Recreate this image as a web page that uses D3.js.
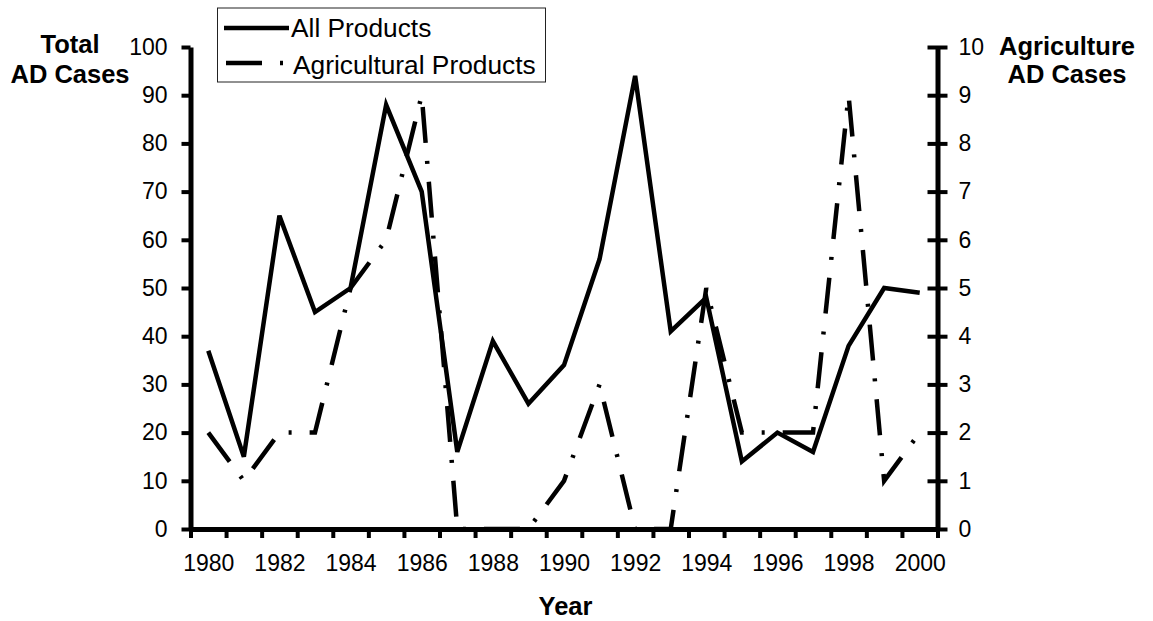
<!DOCTYPE html>
<html>
<head>
<meta charset="utf-8">
<script src="https://cdn.jsdelivr.net/npm/d3@7"></script>
<style>
  body { margin: 0; background: #fff; }
  svg { display: block; font-family: "Liberation Sans", Arial, sans-serif; }
  .axis path, .axis line { stroke: #000; }
</style>
</head>
<body>
<div id="chart"></div>
<script>
// Data
const years = d3.range(1980, 2001);
const allProducts = [37, 15, 65, 45, 50, 88, 70, 16, 39, 26, 34, 56, 94, 41, 48, 14, 20, 16, 38, 50, 49];
const agriProducts = [2, 1, 2, 2, 5, 6, 9, 0, 0, 0, 1, 3, 0, 0, 5, 2, 2, 2, 9, 1, 2];
const leftTicks = d3.range(0, 101, 10);
const rightTicks = d3.range(0, 11, 1);
const yearLabels = years.filter(y => y % 2 === 0);

const W = 1153, H = 621;
const plot = {left: 190.5, right: 937.5, top: 47, bottom: 529};
const agriDash = "36,18,3,18";

const svg = d3.select("#chart").append("svg")
    .attr("width", W)
    .attr("height", H);

// Scales: years are categories, ticks sit on the category boundaries
const x = d3.scaleLinear()
    .domain([years[0] - 0.5, years[years.length - 1] + 0.5])
    .range([plot.left, plot.right]);
const yLeft = d3.scaleLinear().domain([0, 100]).range([plot.bottom, plot.top]);
const yRight = d3.scaleLinear().domain([0, 10]).range([plot.bottom, plot.top]);

// X axis ticks (boundaries) and labels (every other year)
const boundaries = d3.range(years[0] - 0.5, years[years.length - 1] + 1, 1);
svg.append("g")
    .attr("class", "axis")
    .attr("transform", `translate(0,${plot.bottom})`)
    .call(d3.axisBottom(x).tickValues(boundaries).tickSize(9).tickSizeOuter(0).tickFormat(""))
    .call(g => g.selectAll("line").attr("stroke-width", 4))
    .call(g => g.select(".domain").attr("stroke-width", 5));

svg.append("g")
    .attr("transform", `translate(0,${plot.bottom})`)
    .call(d3.axisBottom(x).tickValues(yearLabels).tickSize(0).tickPadding(26).tickFormat(d3.format("d")))
    .call(g => g.select(".domain").remove())
    .call(g => g.selectAll("text").attr("font-size", 23).attr("font-family", "Liberation Sans, Arial, sans-serif").attr("fill", "#000"));

// Left axis
svg.append("g")
    .attr("class", "axis")
    .attr("transform", `translate(${plot.left},0)`)
    .call(d3.axisLeft(yLeft).tickValues(leftTicks).tickSize(9).tickSizeOuter(0).tickPadding(14))
    .call(g => g.select(".domain").attr("stroke-width", 5))
    .call(g => g.selectAll("line").attr("stroke-width", 4))
    .call(g => g.selectAll("text").attr("font-size", 23).attr("font-family", "Liberation Sans, Arial, sans-serif").attr("fill", "#000"));

// Right axis with cross ticks
svg.append("g")
    .attr("class", "axis")
    .attr("transform", `translate(${plot.right},0)`)
    .call(d3.axisRight(yRight).tickValues(rightTicks).tickSize(10).tickSizeOuter(0).tickPadding(11))
    .call(g => g.select(".domain").attr("stroke-width", 5))
    .call(g => g.selectAll("line").attr("x1", -10).attr("stroke-width", 4))
    .call(g => g.selectAll("text").attr("font-size", 23).attr("font-family", "Liberation Sans, Arial, sans-serif").attr("fill", "#000"));

// Lines
const lineAll = d3.line()
    .x((d, i) => x(years[i]))
    .y(d => yLeft(d));
const lineAgri = d3.line()
    .x((d, i) => x(years[i]))
    .y(d => yRight(d));

svg.append("path")
    .datum(agriProducts)
    .attr("d", lineAgri)
    .attr("fill", "none")
    .attr("stroke", "#000")
    .attr("stroke-width", 4.5)
    .attr("stroke-dasharray", agriDash);

svg.append("path")
    .datum(allProducts)
    .attr("d", lineAll)
    .attr("fill", "none")
    .attr("stroke", "#000")
    .attr("stroke-width", 4.5)
    .attr("stroke-linejoin", "miter");

// Axis titles
const title = (lines, cx, baselines) => {
    lines.forEach((t, i) => {
        svg.append("text")
            .attr("x", cx)
            .attr("y", baselines[i])
            .attr("text-anchor", "middle")
            .attr("font-size", 25.5)
            .attr("font-weight", "bold")
            .text(t);
    });
};
title(["Total", "AD Cases"], 70, [53, 83]);
title(["Agriculture", "AD Cases"], 1067, [55, 83]);
title(["Year"], 565.5, [615]);

// Legend
const legend = svg.append("g");
legend.append("rect")
    .attr("x", 217.5)
    .attr("y", 8)
    .attr("width", 328)
    .attr("height", 74)
    .attr("fill", "#fff")
    .attr("stroke", "#222")
    .attr("stroke-width", 1);

legend.append("line")
    .attr("x1", 224).attr("x2", 289)
    .attr("y1", 28).attr("y2", 28)
    .attr("stroke", "#000").attr("stroke-width", 4.5);
legend.append("text")
    .attr("x", 291).attr("y", 37)
    .attr("font-size", 26.3)
    .text("All Products");

legend.append("line")
    .attr("x1", 226).attr("x2", 283)
    .attr("y1", 63).attr("y2", 63)
    .attr("stroke", "#000").attr("stroke-width", 4.5)
    .attr("stroke-dasharray", agriDash);
legend.append("text")
    .attr("x", 293).attr("y", 74)
    .attr("font-size", 26.3)
    .text("Agricultural Products");
</script>
</body>
</html>
